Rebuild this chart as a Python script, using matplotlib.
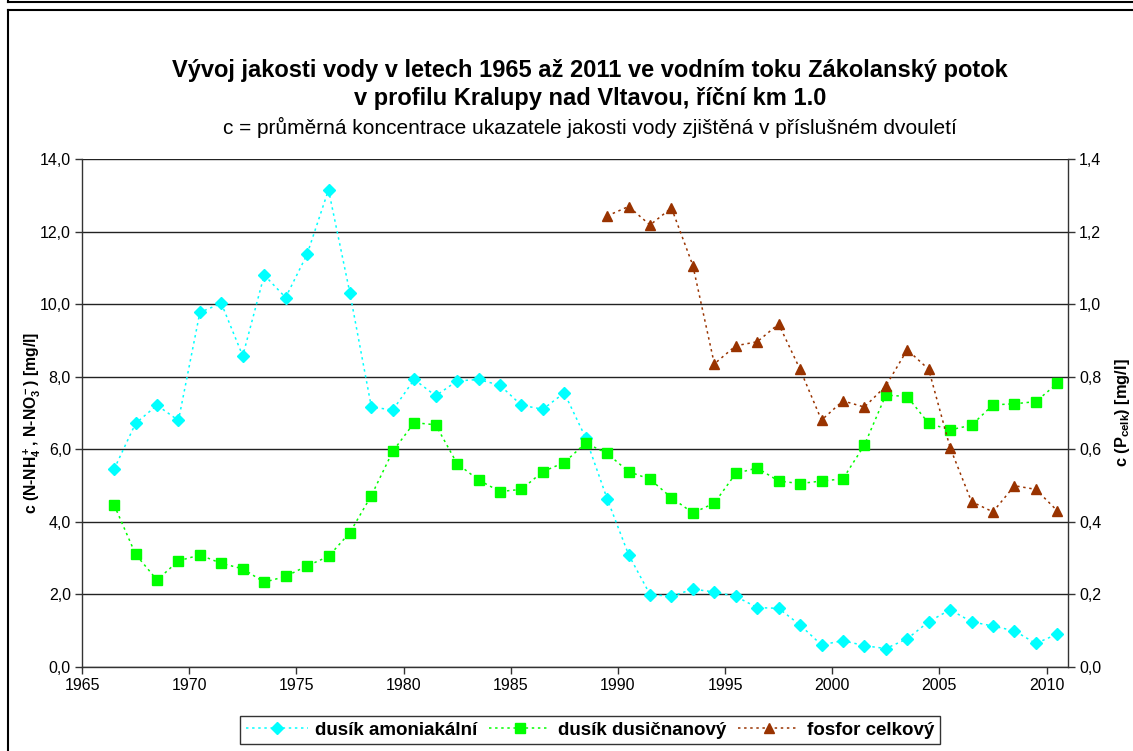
import matplotlib
matplotlib.use("Agg")
import matplotlib.pyplot as plt
from matplotlib.lines import Line2D
from matplotlib.ticker import FuncFormatter, MultipleLocator

plt.rcParams['font.family'] = ['Liberation Sans', 'DejaVu Sans']
plt.rcParams['mathtext.fontset'] = 'custom'
plt.rcParams['mathtext.rm'] = 'Liberation Sans:bold'
plt.rcParams['mathtext.it'] = 'Liberation Sans:bold'
plt.rcParams['mathtext.bf'] = 'Liberation Sans:bold'
plt.rcParams['mathtext.default'] = 'rm'

# Two-year averages, plotted at the middle of each period
years_n = [1966.5 + i for i in range(45)]
years_p = [1989.5 + i for i in range(22)]

ammonia = [5.45, 6.71, 7.21, 6.79, 9.77, 10.02, 8.57, 10.80, 10.18, 11.37,
           13.15, 10.30, 7.16, 7.08, 7.92, 7.47, 7.88, 7.92, 7.76, 7.21,
           7.10, 7.55, 6.31, 4.63, 3.09, 1.99, 1.94, 2.14, 2.06, 1.94,
           1.63, 1.61, 1.15, 0.60, 0.72, 0.58, 0.50, 0.77, 1.24, 1.57,
           1.24, 1.12, 0.99, 0.64, 0.90]

nitrate = [4.46, 3.10, 2.39, 2.92, 3.08, 2.85, 2.70, 2.33, 2.49, 2.78,
           3.04, 3.70, 4.72, 5.94, 6.73, 6.67, 5.60, 5.15, 4.83, 4.89,
           5.38, 5.63, 6.17, 5.88, 5.38, 5.17, 4.66, 4.24, 4.51, 5.33,
           5.48, 5.12, 5.05, 5.12, 5.18, 6.11, 7.49, 7.45, 6.71, 6.53,
           6.66, 7.22, 7.25, 7.31, 7.81]

phosphorus = [1.243, 1.269, 1.218, 1.265, 1.106, 0.835, 0.885, 0.896, 0.945, 0.820,
              0.680, 0.733, 0.716, 0.774, 0.874, 0.820, 0.604, 0.455, 0.427, 0.499,
              0.489, 0.430]

series_labels = ["dusík amoniakální", "dusík dusičnanový", "fosfor celkový"]
x_ticks = [1965, 1970, 1975, 1980, 1985, 1990, 1995, 2000, 2005, 2010]

title_1 = "Vývoj jakosti vody v letech 1965 až 2011 ve vodním toku Zákolanský potok"
title_2 = "v profilu Kralupy nad Vltavou, říční km 1.0"
subtitle = "c = průměrná koncentrace ukazatele jakosti vody zjištěná v příslušném dvouletí"

W, H = 1133, 751
fig = plt.figure(figsize=(W / 100, H / 100), dpi=100)
fig.patch.set_facecolor('white')

# Frame lines around the chart area
def px_line(x0, y0, x1, y1, lw=1.5):
    fig.add_artist(Line2D([x0 / W, x1 / W], [1 - y0 / H, 1 - y1 / H],
                          transform=fig.transFigure, color='black', lw=lw))

px_line(7.5, 0, 7.5, 2)
px_line(7.5, 2, W, 2)
px_line(7.5, 10, W, 10)
px_line(7.5, 10, 7.5, H)

left, right, top, bottom = 82, 1068, 159, 666.7
ax = fig.add_axes([left / W, 1 - bottom / H, (right - left) / W, (bottom - top) / H])
ax2 = ax.twinx()

dot = (0, (1.6, 2.4))
ax.plot(years_n, ammonia, linestyle=dot, lw=1.1, color='#00FFFF',
        marker='D', markersize=5.8, markerfacecolor='#00FFFF', markeredgecolor='#00FFFF',
        label=series_labels[0], zorder=3)
ax.plot(years_n, nitrate, linestyle=dot, lw=1.1, color='#00FF00',
        marker='s', markersize=7, markerfacecolor='#00FF00', markeredgecolor='#00FF00',
        label=series_labels[1], zorder=3)
ax2.plot(years_p, phosphorus, linestyle=dot, lw=1.1, color='#993300',
         marker='^', markersize=7.4, markerfacecolor='#993300', markeredgecolor='#993300',
         label=series_labels[2], zorder=3)

ax.set_xlim(1965, 2011)
ax.set_ylim(0, 14)
ax2.set_ylim(0, 1.4)
ax.set_xticks(x_ticks)
ax.yaxis.set_major_locator(MultipleLocator(2))
ax2.yaxis.set_major_locator(MultipleLocator(0.2))
comma1 = FuncFormatter(lambda v, p: f"{v:.1f}".replace('.', ','))
ax.yaxis.set_major_formatter(comma1)
ax2.yaxis.set_major_formatter(comma1)

ax.yaxis.grid(True, color='#222222', lw=1.0)
ax.set_axisbelow(True)

for a in (ax, ax2):
    a.spines['top'].set_visible(False)
    for s in a.spines.values():
        s.set_color('#333333')
        s.set_linewidth(1.0)
ax.spines['right'].set_visible(False)
ax2.spines['left'].set_visible(False)
ax2.spines['bottom'].set_visible(False)

ax.tick_params(axis='both', direction='out', length=5, width=1, color='#333333',
               labelsize=11.5, pad=3)
ax2.tick_params(axis='y', direction='out', length=5, width=1, color='#333333',
                labelsize=11.5, pad=3)

ax.set_ylabel(r"c (N-NH$_4^+$, N-NO$_3^-$) [mg/l]", fontsize=11.3, fontweight='bold')
ax.yaxis.set_label_coords(-0.040, 0.48)
ax2.set_ylabel(r"c (P$_{celk}$) [mg/l]", fontsize=11.8, fontweight='bold')
ax2.yaxis.set_label_coords(1.0455, 0.5)

cx = 590 / W
fig.text(cx, 1 - 70 / H, title_1, ha='center', va='center', fontsize=17, fontweight='bold')
fig.text(cx, 1 - 99 / H, title_2, ha='center', va='center', fontsize=17, fontweight='bold')
fig.text(cx, 1 - 127 / H, subtitle, ha='center', va='center', fontsize=15)

handles = ax.get_lines() + ax2.get_lines()
leg = fig.legend(handles, series_labels, loc='center', ncol=3,
                 bbox_to_anchor=(cx, 1 - 730 / H), frameon=True, fancybox=False,
                 edgecolor='black', prop={'weight': 'bold', 'size': 13.5},
                 handlelength=3.3, handletextpad=0.4, columnspacing=0.6,
                 borderpad=0.3)
leg.get_frame().set_linewidth(1.0)

fig.savefig("out.png", dpi=100)
